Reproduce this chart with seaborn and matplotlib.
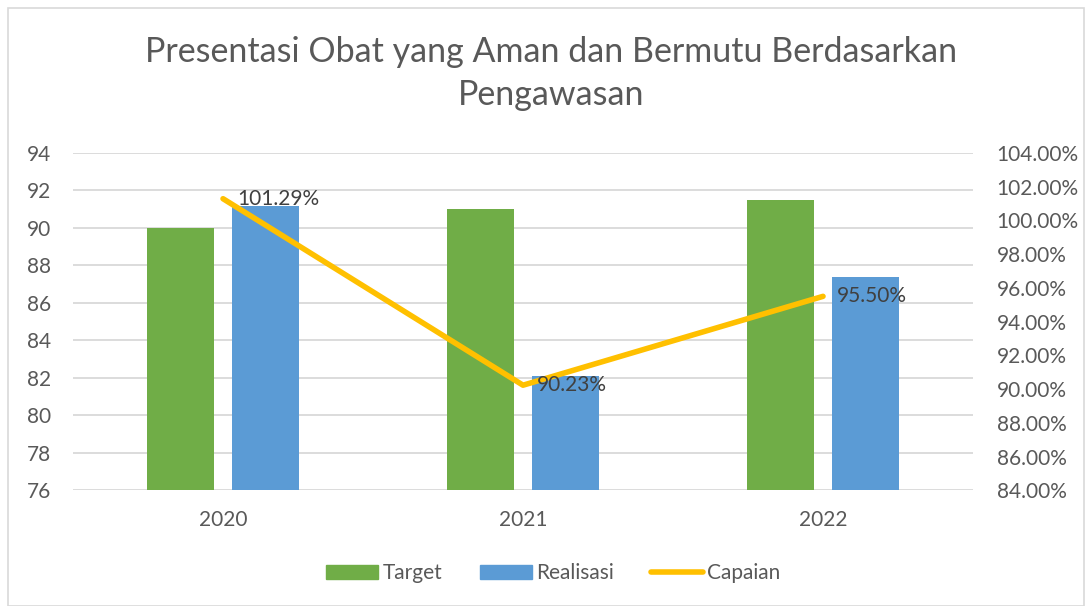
import numpy as np
import pandas as pd
import matplotlib
matplotlib.use("Agg")
import matplotlib.pyplot as plt
import seaborn as sns
from matplotlib.patches import Patch, Rectangle
from matplotlib.lines import Line2D
from matplotlib.ticker import MultipleLocator, FuncFormatter

# data
years = ["2020", "2021", "2022"]
target = [90.0, 91.0, 91.5]
realisasi = [91.16, 82.11, 87.38]
capaian = [101.29, 90.23, 95.50]
capaian_labels = ["101.29%", "90.23%", "95.50%"]

GREEN = "#70AD47"
BLUE = "#5B9BD5"
GOLD = "#FFC000"
GREY_TXT = "#595959"
GRID = "#D9D9D9"

sns.set_theme(style="white")
plt.rcParams['font.family'] = ['Lato', 'DejaVu Sans']

df = pd.DataFrame({
    'Tahun': years * 2,
    'Nilai': target + realisasi,
    'Seri': ['Target'] * 3 + ['Realisasi'] * 3,
})

fig = plt.figure(figsize=(10.85, 6.06), dpi=100)
ax = fig.add_axes([0.0673, 0.191, 0.8295, 0.5565])

sns.barplot(data=df, x='Tahun', y='Nilai', hue='Seri',
            palette=[GREEN, BLUE], width=0.567, gap=0.213,
            ax=ax, legend=False, saturation=1, edgecolor='none')

ax.set_ylim(76, 94)
ax.yaxis.set_major_locator(MultipleLocator(2))
ax.set_xlim(-0.5, 2.5)
ax.grid(axis='y', color=GRID, linewidth=1.3)
ax.set_axisbelow(True)
for s in ax.spines.values():
    s.set_visible(False)
ax.set_xlabel("")
ax.set_ylabel("")
ax.tick_params(axis='both', colors=GREY_TXT, labelsize=15, length=0)
ax.tick_params(axis='x', pad=14)
ax.tick_params(axis='y', pad=16)

ax2 = ax.twinx()
sns.lineplot(x=np.arange(len(years)), y=capaian, color=GOLD, linewidth=4,
             ax=ax2, solid_capstyle='round')
ax2.set_ylim(84, 104)
ax2.set_xlim(-0.5, 2.5)
ax2.yaxis.set_major_locator(MultipleLocator(2))
ax2.yaxis.set_major_formatter(FuncFormatter(lambda v, p: f"{v:.2f}%"))
for s in ax2.spines.values():
    s.set_visible(False)
ax2.tick_params(axis='y', colors=GREY_TXT, labelsize=15, length=0, pad=17)
ax2.set_ylabel("")

for i, (v, lab) in enumerate(zip(capaian, capaian_labels)):
    ax2.annotate(lab, (i, v), xytext=(10, 0), textcoords='offset points',
                 ha='left', va='center', fontsize=15, color="#404040")

fig.suptitle("Presentasi Obat yang Aman dan Bermutu Berdasarkan\nPengawasan",
             x=0.508, y=0.94, fontsize=24.5, color=GREY_TXT, linespacing=1.42)

handles = [Patch(color=GREEN, label='Target'),
           Patch(color=BLUE, label='Realisasi'),
           Line2D([0], [0], color=GOLD, linewidth=4, label='Capaian')]
fig.legend(handles=handles, loc='center', bbox_to_anchor=(0.51, 0.054),
           ncol=3, frameon=False, fontsize=15, labelcolor=GREY_TXT,
           handlelength=2.5, handleheight=0.7, columnspacing=1.8, handletextpad=0.2)

fig.patches.append(Rectangle((0.007, 0.0), 0.992, 0.987, transform=fig.transFigure,
                             fill=False, edgecolor=GRID, linewidth=1.2))

fig.savefig("out.png", dpi=100)
